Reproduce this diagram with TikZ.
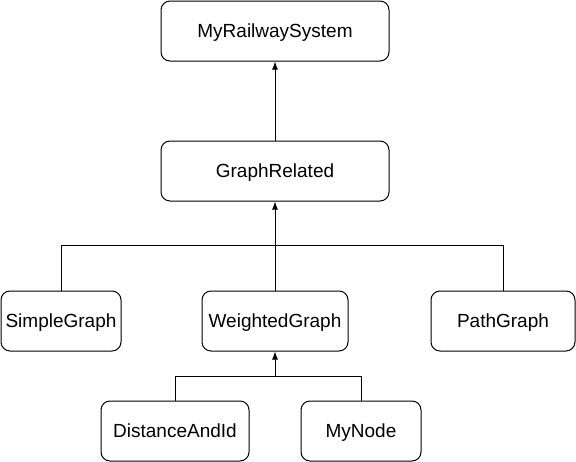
\documentclass[tikz,border=0pt]{standalone}
\usepackage{fontspec}
\setmainfont{Liberation Sans}
\usetikzlibrary{arrows.meta,positioning}
\tikzset{
    block/.style = {draw, rectangle, rounded corners=9pt, line width=1pt,
        minimum height=60pt, inner sep=0pt, align=center,
        text height=14pt, text depth=2pt,
        font=\fontsize{19}{23}\selectfont},
    arrow/.style = {draw, line width=1pt, -{Latex[length=8pt,width=6pt]}},
    link/.style = {draw, line width=1pt}
}

\begin{document}
\begin{tikzpicture}[x=1pt,y=-1pt]
    \useasboundingbox (0,0) rectangle (576,461);

    \node [block, minimum width=228pt, name=sys] at (275,31) {MyRailwaySystem};
    \node [block, minimum width=228pt, name=graph] at (275,171) {GraphRelated};
    \node [block, minimum width=120pt, name=simple] at (61,321) {SimpleGraph};
    \node [block, minimum width=146pt, name=weighted] at (275,321) {WeightedGraph};
    \node [block, minimum width=144pt, name=path] at (503,321) {PathGraph};
    \node [block, minimum width=148pt, name=dist] at (175,431) {DistanceAndId};
    \node [block, minimum width=120pt, name=mynode] at (361,431) {MyNode};

    % branch points of the trees
    \coordinate (split1) at (275,245);
    \coordinate (split2) at (275,376);

    \draw [arrow] (graph) -- (sys);
    \draw [link] (simple.north) |- (split1);
    \draw [link] (path.north) |- (split1);
    \draw [arrow] (weighted.north) -- (graph.south);
    \draw [link] (dist.north) |- (split2);
    \draw [link] (mynode.north) |- (split2);
    \draw [arrow] (split2) -- (weighted.south);
\end{tikzpicture}
\end{document}
